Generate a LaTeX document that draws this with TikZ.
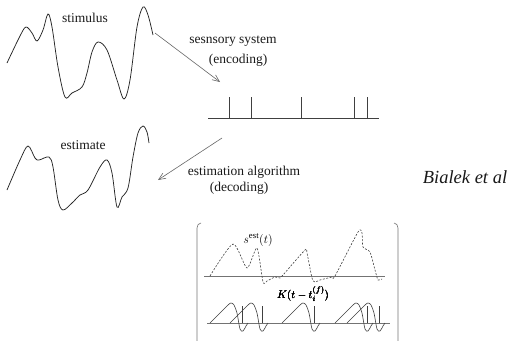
\documentclass[tikz,border=0pt]{standalone}
\usepackage{fontspec}
\setmainfont{Liberation Serif}
\usetikzlibrary{arrows.meta}

\tikzset{
  wave/.style={line width=0.75pt, black!85},
  flow/.style={black!60, line width=0.6pt, -{Straight Barb[length=7pt,width=6pt]}},
  axis/.style={black!55, line width=0.7pt},
  spike/.style={black!75, line width=0.6pt},
  caption/.style={font=\rmfamily\fontsize{13.5}{15}\selectfont, black!90},
}

% one kernel on the lower axis, starting at x = #1
\newcommand\kernelat[1]{%
  \draw[spike] plot[smooth, tension=0.5] coordinates {(#1,323) ({#1+17},306) ({#1+21},303) ({#1+24},305) ({#1+27},313) ({#1+30},329) ({#1+33},331) ({#1+36},326) ({#1+38},323)};
  \draw[spike] ({#1+32},323) -- ({#1+32},306);
}

\begin{document}
\begin{tikzpicture}[x=1pt, y=-1pt]
  \useasboundingbox (0,0) rectangle (513,340);

  % stimulus
  \draw[wave] plot[smooth, tension=0.55] coordinates {(7,63) (20,36) (26,27) (32,33) (37,41) (43,30) (48,14) (52,27) (58,67) (65,97) (72,93) (82,87) (87,73) (92,52) (98,42) (107,50) (117,80) (124,99) (130,80) (137,27) (143,7) (148,15) (153,35)};
  \node[caption] (stimulus) at (85,18) {stimulus};

  % encoding
  \coordinate (stimtail) at (155,33);
  \coordinate (traintip) at (220,82);
  \draw[flow] (stimtail) -- (traintip);
  \node[caption] (sensory) at (233,41) {sesnsory system};
  \node[caption] (encoding) at (238,60) {(encoding)};

  % spike train
  \draw[spike] (208,118) -- (379,118);
  \foreach \t in {229,251,301,354,367}
    \draw[spike] (\t,118) -- (\t,97);

  % decoding
  \coordinate (traintail) at (222,138);
  \coordinate (esttip) at (158,180);
  \draw[flow] (traintail) -- (esttip);
  \node[caption] (algorithm) at (244,172) {estimation algorithm};
  \node[caption] (decoding) at (239,188) {(decoding)};

  % estimate
  \draw[wave] plot[smooth, tension=0.55] coordinates {(7,190) (20,160) (28,146) (35,158) (39,160) (49,157) (53,167) (58,200) (63,210) (72,203) (80,195) (88,190) (100,167) (107,160) (112,173) (117,207) (122,197) (128,188) (133,157) (138,133) (143,126) (147,132) (149,143)};
  \node[caption] (estimate) at (83,145) {estimate};

  \node[font=\rmfamily\fontsize{18.5}{20}\selectfont\itshape, black!90] (credit) at (465,177) {Bialek et al};

  % bottom panel
  \draw[axis, line width=0.6pt] (201,223) to[out=180, in=90] (197,228) -- (197,345);
  \draw[axis, line width=0.6pt] (394,223) to[out=0, in=90] (398,228) -- (398,345);

  \draw[axis] (204,276) -- (385,276);
  \draw[spike, dash pattern=on 2pt off 1.5pt] plot[smooth, tension=0.4] coordinates {(210,276) (233,244) (247,268) (257,248) (263,282) (267,281) (275,277) (280,278) (283,275) (305,250) (307,253) (312,278) (315,282) (320,280) (332,277) (335,276) (358,232) (362,233) (363,247) (370,252) (375,270) (378,280) (382,279)};
  \node[font=\fontsize{12.5}{14}\selectfont] (sest) at (258,240) {$s^{\mathrm{est}}(t)$};

  \draw[axis] (207,323) -- (390,323);
  \foreach \s in {210,230,282,335,347}
    \kernelat{\s}
  \node[font=\fontsize{11}{12}\selectfont] (kernel) at (303,294) {$K(t-t_i^{(f)})$};
\end{tikzpicture}
\end{document}
